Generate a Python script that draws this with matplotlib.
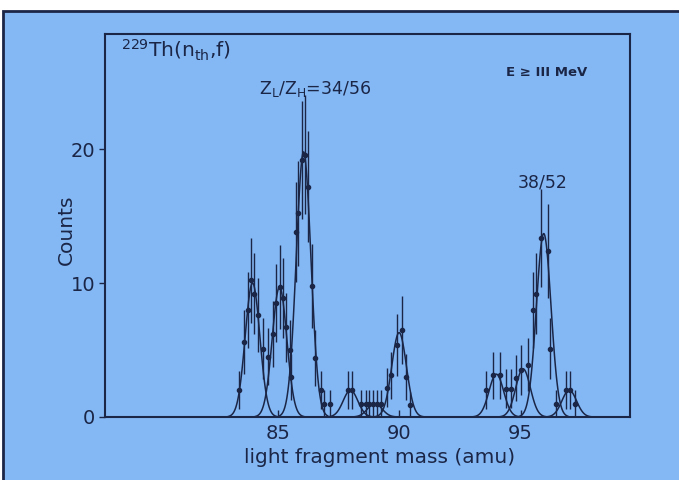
import numpy as np
import matplotlib
matplotlib.use("Agg")
import matplotlib.pyplot as plt
from matplotlib.patches import Rectangle

# measured points (mass in amu, counts); error bars are statistical sqrt(N)
mass = [83.40, 83.60, 83.78, 83.92, 84.02, 84.19, 84.40, 84.60,
        84.81, 84.95, 85.08, 85.22, 85.36, 85.50, 85.57,
        85.77, 85.86, 86.00, 86.11, 86.25, 86.41, 86.55, 86.77, 86.93, 87.14,
        87.90, 88.05, 88.44, 88.62, 88.77, 88.93, 89.09, 89.27,
        89.50, 89.68, 89.92, 90.11, 90.30, 90.43,
        93.59, 93.86, 94.14, 94.38, 94.62, 94.82, 95.02, 95.30,
        95.50, 95.65, 95.85, 96.12, 96.19, 96.44, 96.85, 97.02, 97.22]
counts = [2.0, 5.6, 8.0, 10.2, 9.2, 7.6, 5.1, 4.5,
          6.2, 8.5, 9.7, 8.9, 6.7, 5.0, 3.0,
          13.8, 15.2, 19.2, 19.6, 17.2, 9.8, 4.4, 2.0, 1.0, 1.0,
          2.0, 2.0, 1.0, 1.0, 1.0, 1.0, 1.0, 1.0,
          2.2, 3.1, 5.4, 6.5, 3.0, 0.9,
          2.0, 3.1, 3.1, 2.1, 2.1, 2.9, 3.5, 3.9,
          8.0, 9.2, 13.4, 12.4, 5.1, 1.0, 2.0, 2.0, 1.0]

# fitted gaussian components: centre, height, width
fit_center = [83.97, 85.08, 86.07, 88.0, 89.0, 90.0, 94.0, 95.1, 95.95, 97.0]
fit_height = [10.0, 9.7, 19.8, 2.0, 1.0, 6.3, 3.2, 3.6, 13.7, 2.0]
fit_sigma = [0.30, 0.30, 0.30, 0.30, 0.30, 0.30, 0.30, 0.30, 0.30, 0.30]

xticks = [85, 90, 95]
yticks = [0, 10, 20]

bg = "#84b8f4"
ink = "#1b2647"

plt.rcParams["font.family"] = ["DejaVu Sans"]

fig = plt.figure(figsize=(6.79, 4.80), dpi=100, facecolor="white")
fig.patches.append(Rectangle((3 / 679, -0.1), 1.2, 1.1 - 11 / 480,
                             transform=fig.transFigure, facecolor=bg,
                             edgecolor=ink, lw=2.0, zorder=-10))

ax = fig.add_axes([105 / 679, 1 - 417 / 480, 525 / 679, 383 / 480])
ax.set_facecolor(bg)
ax.set_xlim(77.9, 99.5)
ax.set_ylim(0, 28.6)

for c, h, s in zip(fit_center, fit_height, fit_sigma):
    xx = np.linspace(c - 3.3 * s, c + 3.3 * s, 120)
    ax.plot(xx, h * np.exp(-(xx - c) ** 2 / (2 * s * s)), color=ink, lw=1.1)

m = np.array(mass)
n = np.array(counts)
ax.errorbar(m, n, yerr=np.sqrt(n), fmt="o", ms=3.0, color=ink,
            ecolor=ink, elinewidth=1.0, capsize=0)

for sp in ax.spines.values():
    sp.set_color(ink)
    sp.set_linewidth(1.5)

ax.set_xticks(xticks)
ax.set_yticks(yticks)
ax.tick_params(axis="x", direction="in", length=5, width=1.0, colors=ink,
               labelsize=14, pad=5)
ax.tick_params(axis="y", direction="out", length=4, width=1.0, colors=ink,
               labelsize=14, pad=3)

ax.set_ylabel("Counts", fontsize=14.5, color=ink)
ax.yaxis.set_label_coords(-0.055, 0.49)
ax.set_xlabel("light fragment mass (amu)", fontsize=14.5, color=ink)
ax.xaxis.set_label_coords(0.523, -0.08)

ax.text(78.55, 27.4, r"$^{229}$Th(n$_{\mathregular{th}}$,f)", fontsize=14.5,
        color=ink, va="center", ha="left")
ax.text(96.05, 25.7, "E ≥ III MeV", fontsize=9.5, color=ink,
        va="center", ha="center", fontweight="bold")
ax.text(86.55, 24.5, r"Z$_\mathregular{L}$/Z$_\mathregular{H}$=34/56",
        fontsize=12.5, color=ink, va="center", ha="center")
ax.text(95.9, 17.5, "38/52", fontsize=12.5, color=ink,
        va="center", ha="center")

fig.savefig("out.png", dpi=100, facecolor="white")
